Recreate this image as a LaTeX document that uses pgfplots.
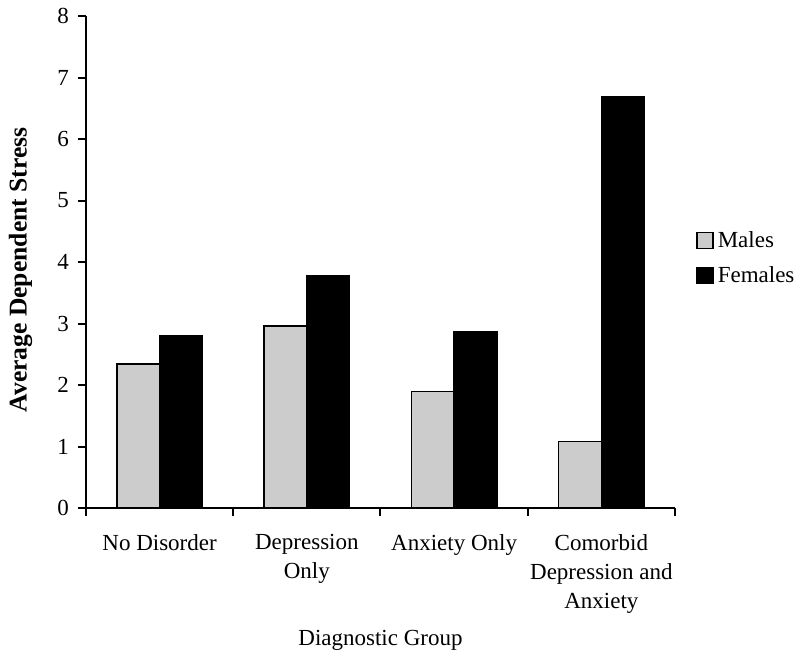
\documentclass[border=0pt]{standalone}
\usepackage{fontspec}
\setmainfont{Liberation Serif}
\usepackage{pgfplots}
\pgfplotsset{compat=1.18}
\definecolor{malegray}{RGB}{204,204,204}
\begin{document}
\begin{tikzpicture}
\useasboundingbox (-43pt,-76pt) rectangle (357pt,254pt);
\begin{axis}[
  at={(0,0)}, anchor=south west,
  scale only axis, width=294.5pt, height=246pt,
  xmin=0, xmax=4, ymin=0, ymax=8,
  axis x line*=bottom, axis y line*=left,
  axis line style={line width=1pt, -},
  xtick={0,1,2,3,4}, x tick label as interval,
  xticklabels={No Disorder, Depression\\Only, Anxiety Only, Comorbid\\Depression and\\Anxiety},
  ytick={0,...,8},
  tick align=outside, major tick length=4pt,
  tick style={line width=1pt, black},
  /pgf/number format/assume math mode=true,
  ticklabel style={font=\fontsize{11.5}{14.5}\selectfont},
  xticklabel style={align=center, yshift=-5.5pt},
  yticklabel style={xshift=-1pt},
  xlabel={Diagnostic Group},
  xlabel style={at={(axis description cs:0.5,0)}, anchor=north, inner sep=0pt, yshift=-61pt, font=\fontsize{11.5}{14}\selectfont},
  ylabel={\textbf{Average Dependent Stress}},
  ylabel style={at={(axis description cs:-0.111,0.484)}, anchor=center, font=\fontsize{12.8}{15}\selectfont},
  legend style={draw=none, fill=none, at={(1,0.508)}, anchor=west, xshift=10.5pt, inner sep=0pt, font=\fontsize{11.5}{14}\selectfont, row sep=4pt, cells={anchor=west}},
  legend image code/.code={\draw[#1, line width=0.7pt] (0pt,-4pt) rectangle (8pt,4pt);},
]
\addplot[ybar, bar width=0.29, bar shift=-0.145, fill=malegray, draw=black, line width=0.7pt] coordinates {(0.5,2.34) (1.5,2.96) (2.5,1.89) (3.5,1.08)};
\addlegendentry{Males}
\addplot[ybar, bar width=0.29, bar shift=0.145, fill=black, draw=black, line width=0.7pt] coordinates {(0.5,2.80) (1.5,3.78) (2.5,2.87) (3.5,6.69)};
\addlegendentry{Females}
\end{axis}
\end{tikzpicture}
\end{document}
